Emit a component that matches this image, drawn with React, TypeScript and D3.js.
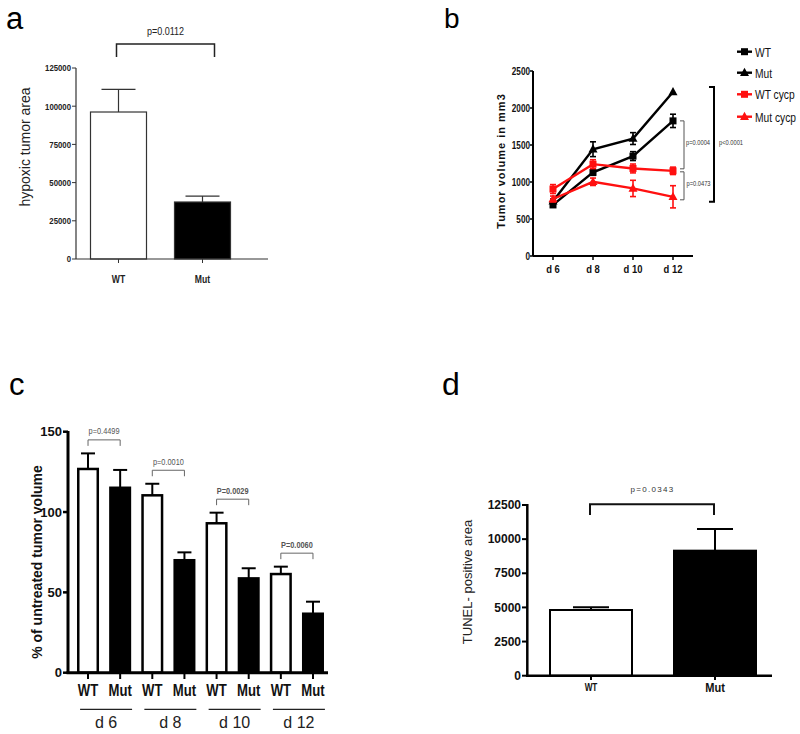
import React from 'react';
import * as d3 from 'd3';

// ---------- Panel a ----------
const aCategories = ['WT', 'Mut'];
const aValues = [96200, 37300];
const aErrors = [14800, 3900];
const aTicks = [0, 25000, 50000, 75000, 100000, 125000];
const aP = 'p=0.0112';

// ---------- Panel b ----------
const bDays = ['d 6', 'd 8', 'd 10', 'd 12'];
const bWT = [690, 1130, 1350, 1826];
const bWTErr = [30, 40, 60, 90];
const bMut = [740, 1443, 1587, 2217];
const bMutErr = [30, 100, 80, 0];
const bWTcycp = [905, 1241, 1183, 1151];
const bWTcycpErr = [60, 60, 60, 50];
const bMutcycp = [770, 1003, 913, 800];
const bMutcycpErr = [40, 50, 110, 150];
const bTicks = [0, 500, 1000, 1500, 2000, 2500];
const bSeriesNames = ['WT', 'Mut', 'WT cycp', 'Mut cycp'];
const bPvals = ['p=0.0004', 'p=0.0473', 'p<0.0001'];

// ---------- Panel c ----------
const cDays = ['d 6', 'd 8', 'd 10', 'd 12'];
const cWT = [126.8, 110.4, 93.0, 61.4];
const cWTErr = [9.7, 7.2, 6.6, 4.6];
const cMut = [115.1, 70.0, 58.7, 36.7];
const cMutErr = [11.1, 4.9, 6.3, 7.5];
const cPvals = ['p=0.4499', 'p=0.0010', 'P=0.0029', 'P=0.0060'];
const cTicks = [0, 50, 100, 150];

// ---------- Panel d ----------
const dCategories = ['WT', 'Mut'];
const dValues = [4811, 9155];
const dErrors = [200, 1585];
const dTicks = [0, 2500, 5000, 7500, 10000, 12500];
const dP = 'p=0.0343';

const SANS = "'Liberation Sans', Arial, sans-serif";
const RED = '#ff1010';

type NTProps = {
  x: number; y: number; size: number; anchor?: 'start' | 'middle' | 'end';
  weight?: string; fill?: string; dy?: string; sx?: number; children: React.ReactNode;
};
// condensed text (Arial Narrow look) via horizontal scaling
function NText({ x, y, size, anchor = 'start', weight = 'normal', fill = '#111', dy, sx = 0.82, children }: NTProps) {
  return (
    <text transform={`translate(${x},${y}) scale(${sx},1)`} dy={dy} textAnchor={anchor}
      fontFamily={SANS} fontWeight={weight} fontSize={size} fill={fill}>{children}</text>
  );
}

function PanelA() {
  const y = d3.scaleLinear().domain([0, 125000]).range([259, 68]);
  const x = d3.scaleBand().domain(aCategories).range([76, 245]).paddingInner(1 / 3).paddingOuter(0.1726);
  const bw = x.bandwidth();
  const c0 = x('WT')! + bw / 2;
  const c1 = x('Mut')! + bw / 2;
  return (
    <g>
      <text x={6} y={28.5} fontFamily={SANS} fontSize={31}>a</text>
      {aCategories.map((k, i) => {
        const cx = x(k)! + bw / 2;
        const top = y(aValues[i]);
        const et = y(aValues[i] + aErrors[i]);
        return (
          <g key={k}>
            <line x1={cx} x2={cx} y1={top} y2={et} stroke="#333" strokeWidth={1.2} />
            <line x1={cx - 17} x2={cx + 17} y1={et} y2={et} stroke="#333" strokeWidth={1.2} />
            <rect x={x(k)} y={top} width={bw} height={y(0) - top}
              fill={i === 0 ? '#fff' : '#000'} stroke="#333" strokeWidth={1.2} />
            <line x1={cx} x2={cx} y1={259} y2={263} stroke="#333" strokeWidth={1} />
            <NText x={cx} y={282.5} anchor="middle" weight="bold" size={10.5} fill="#222">{k}</NText>
          </g>
        );
      })}
      <line x1={76} x2={76} y1={68} y2={259} stroke="#333" strokeWidth={1.2} />
      <line x1={76} x2={268} y1={259} y2={259} stroke="#333" strokeWidth={1.2} />
      {aTicks.map(t => (
        <g key={t}>
          <line x1={72} x2={76} y1={y(t)} y2={y(t)} stroke="#333" strokeWidth={1} />
          <NText x={71} y={y(t)} dy="0.35em" anchor="end" weight="bold" size={9.5} fill="#222">{t}</NText>
        </g>
      ))}
      <text transform="translate(30,147) rotate(-90)" textAnchor="middle" fontFamily={SANS} fontSize={14} fill="#222">hypoxic tumor area</text>
      <path d={`M${c0 - 2},57 V44 H${c1 + 12} V57`} fill="none" stroke="#222" strokeWidth={1.5} />
      <NText x={(c0 + c1 + 10) / 2} y={34.5} anchor="middle" size={11} fill="#222">{aP}</NText>
    </g>
  );
}

function Square({ cx, cy, color, s = 7 }: { cx: number; cy: number; color: string; s?: number }) {
  return <rect x={cx - s / 2} y={cy - s / 2} width={s} height={s} fill={color} />;
}
function Tri({ cx, cy, color, s = 9 }: { cx: number; cy: number; color: string; s?: number }) {
  const h = s * 0.9;
  return <path d={`M${cx},${cy - h * 0.6} L${cx + s / 2},${cy + h * 0.4} L${cx - s / 2},${cy + h * 0.4} Z`} fill={color} />;
}

function PanelB() {
  const y = d3.scaleLinear().domain([0, 2500]).range([256, 71]);
  const x = d3.scalePoint().domain(bDays).range([553, 673]);
  const line = d3.line<number>().x((_, i) => x(bDays[i])!).y(v => y(v));
  const series = [
    { name: bSeriesNames[0], vals: bWT, err: bWTErr, color: '#000', shape: 'sq' },
    { name: bSeriesNames[1], vals: bMut, err: bMutErr, color: '#000', shape: 'tri' },
    { name: bSeriesNames[2], vals: bWTcycp, err: bWTcycpErr, color: RED, shape: 'sq' },
    { name: bSeriesNames[3], vals: bMutcycp, err: bMutcycpErr, color: RED, shape: 'tri' },
  ];
  const legendY = [51.7, 72.7, 94.3, 116.7];
  const last = bDays.length - 1;
  const yWT = y(bWT[last]);
  const yWTc = y(bWTcycp[last]);
  const yMut = y(bMut[last]);
  const yMutc = y(bMutcycp[last]);
  return (
    <g>
      <text x={444} y={28} fontFamily={SANS} fontSize={28}>b</text>
      {series.map(s => (
        <g key={s.name}>
          <path d={line(s.vals)!} fill="none" stroke={s.color} strokeWidth={2.4} />
          {s.vals.map((v, i) => {
            const cx = x(bDays[i])!;
            const e = s.err[i];
            return (
              <g key={i}>
                {e > 0 && (
                  <g stroke={s.color} strokeWidth={1.6}>
                    <line x1={cx} x2={cx} y1={y(v - e)} y2={y(v + e)} />
                    <line x1={cx - 3} x2={cx + 3} y1={y(v - e)} y2={y(v - e)} />
                    <line x1={cx - 3} x2={cx + 3} y1={y(v + e)} y2={y(v + e)} />
                  </g>
                )}
                {s.shape === 'sq' ? <Square cx={cx} cy={y(v)} color={s.color} /> : <Tri cx={cx} cy={y(v)} color={s.color} />}
              </g>
            );
          })}
        </g>
      ))}
      <line x1={533} x2={533} y1={71} y2={256} stroke="#000" strokeWidth={2} />
      <line x1={533} x2={693} y1={256} y2={256} stroke="#000" strokeWidth={2} />
      {bTicks.map(t => (
        <g key={t}>
          <line x1={530} x2={533} y1={y(t)} y2={y(t)} stroke="#000" strokeWidth={1.5} />
          <NText x={530} y={y(t)} dy="0.35em" anchor="end" weight="bold" size={10} fill="#111">{t}</NText>
        </g>
      ))}
      {bDays.map(dd => (
        <g key={dd}>
          <line x1={x(dd)} x2={x(dd)} y1={256} y2={260} stroke="#000" strokeWidth={1.5} />
          <NText x={x(dd)!} y={272.5} anchor="middle" weight="bold" size={11.5} fill="#111">{dd}</NText>
        </g>
      ))}
      <text transform="translate(505,161) rotate(-90)" textAnchor="middle" fontFamily={SANS} fontWeight="bold" fontSize={11} letterSpacing={1} fill="#111">Tumor volume in mm3</text>
      {/* brackets */}
      <path d={`M680,${yWT} H684 V${yWTc - 2} H680`} fill="none" stroke="#555" strokeWidth={1} />
      <NText x={686} y={145} size={7} fill="#333">{bPvals[0]}</NText>
      <path d={`M680,${yWTc + 1} H684 V${yMutc + 3} H680`} fill="none" stroke="#555" strokeWidth={1} />
      <NText x={686.5} y={186} size={7} fill="#333">{bPvals[1]}</NText>
      <path d={`M709,${yMut - 5} H714 V${yMutc + 5} H709`} fill="none" stroke="#000" strokeWidth={2} />
      <NText x={719} y={145} size={7} fill="#333">{bPvals[2]}</NText>
      {/* legend */}
      {series.map((s, i) => (
        <g key={s.name}>
          <line x1={737} x2={752} y1={legendY[i]} y2={legendY[i]} stroke={s.color} strokeWidth={2.4} />
          {s.shape === 'sq' ? <Square cx={744.5} cy={legendY[i]} color={s.color} /> : <Tri cx={744.5} cy={legendY[i]} color={s.color} />}
          <NText x={755} y={legendY[i] + 5} size={12.5} fill="#111">{s.name}</NText>
        </g>
      ))}
    </g>
  );
}

function PanelC() {
  const y = d3.scaleLinear().domain([0, 150]).range([672.7, 431.7]);
  const keys = cDays.flatMap(dd => [dd + '|WT', dd + '|Mut']);
  const x = d3.scaleBand().domain(keys).range([72, 329]).paddingInner(0.315).paddingOuter(0.156);
  const bw = x.bandwidth();
  const cen = (k: string) => x(k)! + bw / 2;
  return (
    <g>
      <text x={9} y={395} fontFamily={SANS} fontSize={31}>c</text>
      {cDays.map((dd, i) => {
        const kW = dd + '|WT';
        const kM = dd + '|Mut';
        const bars = [
          { k: kW, v: cWT[i], e: cWTErr[i], fill: '#fff', label: 'WT' },
          { k: kM, v: cMut[i], e: cMutErr[i], fill: '#000', label: 'Mut' },
        ];
        const topErr = Math.max(cWT[i] + cWTErr[i], cMut[i] + cMutErr[i]);
        const by = y(topErr) - 13.5;
        const mid = (cen(kW) + cen(kM)) / 2;
        return (
          <g key={dd}>
            {bars.map(b => {
              const cx = cen(b.k);
              const top = y(b.v);
              const et = y(b.v + b.e);
              return (
                <g key={b.k}>
                  <line x1={cx} x2={cx} y1={top} y2={et} stroke="#000" strokeWidth={2} />
                  <line x1={cx - 7} x2={cx + 7} y1={et} y2={et} stroke="#000" strokeWidth={2} />
                  <rect x={x(b.k)! + 1.25} y={top} width={bw - 2.5} height={y(0) - top} fill={b.fill} stroke="#000" strokeWidth={2.5} />
                  <line x1={cx} x2={cx} y1={673} y2={679} stroke="#000" strokeWidth={2} />
                  <NText x={cx} y={696} anchor="middle" weight="bold" size={16} fill="#111">{b.label}</NText>
                </g>
              );
            })}
            <path d={`M${cen(kW)},${by + 6} V${by} H${cen(kM)} V${by + 6}`} fill="none" stroke="#666" strokeWidth={1} />
            <NText x={mid} y={by - 5.5} anchor="middle" size={9} weight={i >= 2 ? 'bold' : 'normal'} fill="#555">{cPvals[i]}</NText>
            <line x1={mid - 24} x2={mid + 28} y1={709.3} y2={709.3} stroke="#222" strokeWidth={1.2} />
            <text x={mid + 2} y={728} textAnchor="middle" fontFamily={SANS} fontSize={16} fill="#222">{dd}</text>
          </g>
        );
      })}
      <line x1={68} x2={68} y1={431} y2={674} stroke="#000" strokeWidth={3} />
      <line x1={66.5} x2={328} y1={672.7} y2={672.7} stroke="#000" strokeWidth={3} />
      {cTicks.map(t => (
        <g key={t}>
          <line x1={63} x2={68} y1={y(t)} y2={y(t)} stroke="#000" strokeWidth={2.5} />
          <text x={62} y={y(t)} dy="0.35em" textAnchor="end" fontFamily={SANS} fontWeight="bold" fontSize={13} fill="#111">{t}</text>
        </g>
      ))}
      <text transform="translate(42,562) rotate(-90)" textAnchor="middle" fontFamily={SANS} fontWeight="bold" fontSize={14} fill="#111">% of untreated tumor volume</text>
    </g>
  );
}

function PanelD() {
  const y = d3.scaleLinear().domain([0, 12500]).range([675.7, 505]);
  const x = d3.scaleBand().domain(dCategories).range([527.3, 778.7]).paddingInner(0.3226).paddingOuter(0.175);
  const bw = x.bandwidth();
  const c0 = x('WT')! + bw / 2;
  const c1 = x('Mut')! + bw / 2;
  return (
    <g>
      <text x={442} y={395} fontFamily={SANS} fontSize={32}>d</text>
      {dCategories.map((k, i) => {
        const cx = x(k)! + bw / 2;
        const top = y(dValues[i]);
        const et = y(dValues[i] + dErrors[i]);
        return (
          <g key={k}>
            <line x1={cx} x2={cx} y1={top} y2={et} stroke="#000" strokeWidth={2} />
            <line x1={cx - 18} x2={cx + 18} y1={et} y2={et} stroke="#000" strokeWidth={2} />
            <rect x={x(k)! + 1} y={top} width={bw - 2} height={y(0) - top} fill={i === 0 ? '#fff' : '#000'} stroke="#000" strokeWidth={2} />
            <line x1={cx} x2={cx} y1={675.7} y2={680} stroke="#000" strokeWidth={2} />
            <NText x={cx} y={i === 0 ? 691 : 692} anchor="middle" weight="bold" size={i === 0 ? 10 : 13.5} fill="#111">{k}</NText>
          </g>
        );
      })}
      <line x1={527.3} x2={527.3} y1={504} y2={677} stroke="#000" strokeWidth={2.5} />
      <line x1={526} x2={772} y1={675.7} y2={675.7} stroke="#000" strokeWidth={2.5} />
      {dTicks.map(t => (
        <g key={t}>
          <line x1={522} x2={527} y1={y(t)} y2={y(t)} stroke="#000" strokeWidth={2} />
          <text x={521} y={y(t)} dy="0.35em" textAnchor="end" fontFamily={SANS} fontWeight="bold" fontSize={12} fill="#111">{t}</text>
        </g>
      ))}
      <text transform="translate(472,582) rotate(-90)" textAnchor="middle" fontFamily={SANS} fontSize={13} fill="#222">TUNEL- positive area</text>
      <path d={`M${c0 - 1},515 V504.3 H${c1 - 1} V515`} fill="none" stroke="#111" strokeWidth={2} />
      <text x={(c0 + c1) / 2 - 0.5} y={491.7} textAnchor="middle" fontFamily={SANS} fontSize={8} letterSpacing={1.3} fill="#333">{dP}</text>
    </g>
  );
}

export default function App() {
  return (
    <svg width={800} height={734} viewBox="0 0 800 734"
      style={{ position: 'absolute', left: 0, top: 0, display: 'block', background: '#fff' }}>
      <rect width={800} height={734} fill="#fff" />
      <PanelA />
      <PanelB />
      <PanelC />
      <PanelD />
    </svg>
  );
}
